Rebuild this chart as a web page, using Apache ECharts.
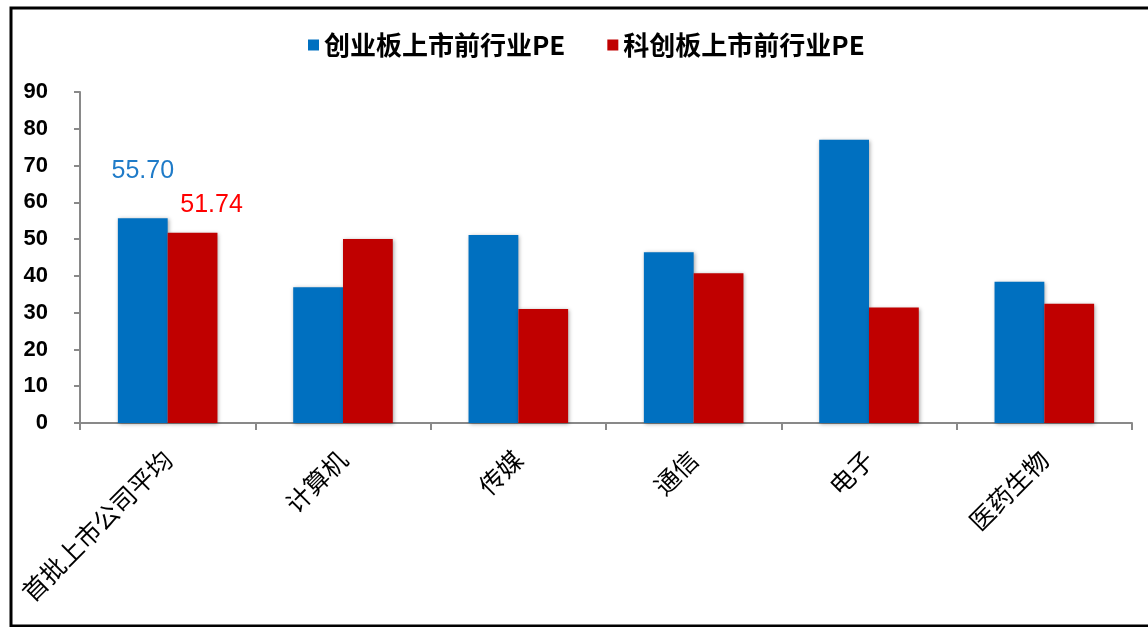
<!DOCTYPE html>
<html>
<head>
<meta charset="utf-8">
<script src="https://cdn.jsdelivr.net/npm/echarts@6/dist/echarts.min.js"></script>
<style>
html,body{margin:0;padding:0;background:#fff;}
#main{width:1148px;height:627px;}
</style>
</head>
<body>
<div id="main"></div>
<script>
var categories = ['首批上市公司平均', '计算机', '传媒', '通信', '电子', '医药生物'];
var seriesNames = ['创业板上市前行业PE', '科创板上市前行业PE'];
var chinextPE = [55.70, 36.9, 51.1, 46.4, 77.0, 38.4];
var starPE = [51.74, 50.0, 31.0, 40.7, 31.4, 32.4];
var yTicks = [0, 10, 20, 30, 40, 50, 60, 70, 80, 90];

var chart = echarts.init(document.getElementById('main'));
var cjk = '"Noto Sans CJK SC", "Noto Sans", sans-serif';
var shadow = {shadowBlur: 4, shadowColor: 'rgba(0,0,0,0.35)', shadowOffsetX: 1, shadowOffsetY: 1};

function labelFor(idx, color, offY) {
  return {
    show: true,
    position: 'top',
    offset: [idx === 0 ? 0 : 19, offY],
    color: color,
    fontSize: 25,
    fontFamily: '"Liberation Sans", Arial, sans-serif',
    formatter: function (p) { return p.dataIndex === 0 ? p.value.toFixed(2) : ''; }
  };
}

chart.setOption({
  animation: false,
  graphic: [{
    type: 'rect',
    shape: {x: 11, y: 8, width: 1160, height: 618},
    style: {fill: 'none', stroke: '#000', lineWidth: 3},
    silent: true, z: 100
  }],
  legend: {
    top: 27,
    left: 303,
    itemWidth: 11,
    itemHeight: 11,
    itemGap: 42,
    icon: 'rect',
    textStyle: {fontSize: 26, fontWeight: 'bold', color: '#000', fontFamily: cjk},
    data: seriesNames
  },
  grid: {left: 80, right: 16, top: 92, bottom: 204, containLabel: false},
  xAxis: {
    type: 'category',
    data: categories,
    axisLine: {lineStyle: {color: '#898989', width: 2}},
    axisTick: {show: true, length: 7, lineStyle: {color: '#898989', width: 2}},
    axisLabel: {rotate: 45, margin: 32, fontSize: 25, color: '#000', fontFamily: cjk, interval: 0}
  },
  yAxis: {
    type: 'value',
    min: 0, max: 90, interval: 10,
    axisLine: {show: true, lineStyle: {color: '#898989', width: 2}},
    axisTick: {show: true, length: 6, lineStyle: {color: '#898989', width: 2}},
    splitLine: {show: false},
    axisLabel: {margin: 32, fontSize: 22, color: '#000', fontWeight: 'bold',
      fontFamily: '"Liberation Sans", Arial, sans-serif',
      formatter: function (v) { return yTicks.indexOf(v) >= 0 ? String(v) : ''; }}
  },
  series: [{
    name: seriesNames[0],
    type: 'bar',
    data: chinextPE,
    barWidth: '28.4%',
    barGap: '0%',
    itemStyle: Object.assign({color: '#0070C0'}, shadow),
    label: labelFor(0, '#1F7BC8', -30)
  }, {
    name: seriesNames[1],
    type: 'bar',
    data: starPE,
    barWidth: '28.4%',
    itemStyle: Object.assign({color: '#C00000'}, shadow),
    label: labelFor(1, '#FF0000', -10)
  }]
});
</script>
</body>
</html>
